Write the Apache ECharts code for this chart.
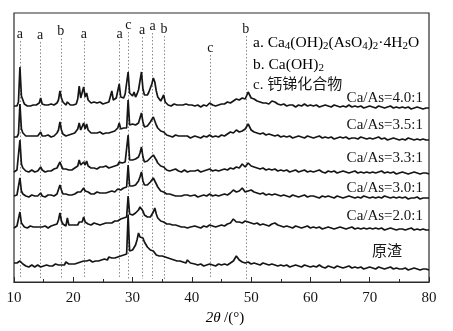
<!DOCTYPE html>
<html>
<head>
<meta charset="utf-8">
<script src="https://cdn.jsdelivr.net/npm/echarts@6/dist/echarts.min.js"></script>
<style>
  html, body { margin: 0; padding: 0; background: #fff; }
  #chart { width: 453px; height: 331px; }
</style>
</head>
<body>
<div id="chart"></div>
<script>
// XRD patterns of the arsenic-fixing products at several Ca/As ratios and the raw slag.
// Sampling: 10–40° every 0.25°, then 40.5–80° every 0.5°.
const angles = [];
for (let a = 10; a <= 40; a += 0.25) angles.push(a);
for (let a = 40.5; a <= 80; a += 0.5) angles.push(a);

const sampleNames = ['Ca/As=4.0:1', 'Ca/As=3.5:1', 'Ca/As=3.3:1', 'Ca/As=3.0:1', 'Ca/As=2.0:1', '原渣'];
// vertical offset of each stacked pattern (intensity units)
const stackOffset = [175, 144, 110, 85, 54, 15];

const ratio40 = [
  1, 2, 1, 5, 40, 11, 7, 3,
  2, 1, 2, 1, 0, 2, 1, 2,
  3, 4, 9, 3, 1, 2, 0, 2,
  1, 3, 2, 2, 3, 4, 7, 16,
  9, 5, 3, 2, 5, 3, 2, 3,
  2, 4, 3, 8, 21, 9, 11, 20,
  10, 14, 7, 5, 4, 3, 5, 3,
  4, 3, 5, 4, 3, 5, 4, 6,
  5, 7, 16, 7, 6, 9, 11, 23,
  10, 12, 9, 13, 11, 35, 14, 12,
  11, 15, 10, 13, 17, 26, 35, 18,
  12, 10, 12, 15, 19, 23, 29, 25,
  16, 10, 8, 6, 8, 12, 5, 3,
  2, 3, 1, 2, 3, 1, 2, 1,
  2, 0, 2, 1, 3, 1, 2, 1,
  2,
  1, 2, 0, 2, 1, 4, 2, 1, 2, 3,
  3, 5, 4, 6, 8, 7, 9, 8, 15, 9,
  8, 6, 5, 4, 4, 3, 6, 5, 3, 2,
  3, 1, 2, 2, 0, 2, 1, 3, 1, 2,
  1, 2, 0, 1, 2, 1, 0, 2, 1, 0,
  1, 0, 2, 0, 1, 0, 1, -1, 0, 1,
  0, -1, 1, 0, -1, 0, 1, -1, 0, -1,
  0, -1, 0, -2, -1, 0, -1, -2, -1, -1
];

const ratio35 = [
  1, 2, 1, 4, 34, 9, 5, 3,
  2, 1, 2, 0, 2, 1, 2, 1,
  2, 3, 6, 2, 1, 2, 1, 3,
  2, 1, 3, 2, 3, 5, 8, 16,
  8, 4, 3, 2, 4, 3, 2, 4,
  3, 5, 4, 9, 15, 8, 10, 15,
  9, 14, 8, 6, 5, 4, 5, 3,
  5, 4, 6, 5, 4, 6, 5, 6,
  5, 7, 6, 8, 7, 9, 10, 15,
  9, 11, 10, 12, 10, 38, 13, 12,
  14, 12, 13, 11, 15, 20, 25, 16,
  11, 10, 12, 14, 16, 18, 21, 19,
  13, 10, 9, 7, 6, 6, 4, 3,
  3, 2, 3, 1, 2, 3, 1, 2,
  1, 2, 0, 2, 1, 2, 1, 0,
  1,
  2, 1, 0, 2, 1, 3, 1, 2, 1, 3,
  2, 4, 6, 5, 8, 6, 7, 9, 14, 8,
  6, 5, 4, 5, 3, 4, 3, 2, 3, 1,
  2, 1, 2, 0, 1, 2, 1, 0, 2, 1,
  0, 1, 2, 0, 1, 0, 1, -1, 0, 1,
  0, 1, -1, 0, 0, -1, 1, 0, -1, 0,
  -1, 0, 1, -1, 0, -2, -1, 0, -1, -2,
  -1, -2, 0, -1, -2, -1, -2, -1, -2, -2
];

const ratio33 = [
  0, 1, 2, 4, 32, 8, 4, 2,
  1, 2, 0, 1, 2, 1, 0, 2,
  1, 2, 5, 2, 1, 0, 2, 1,
  2, 1, 2, 3, 2, 4, 5, 10,
  6, 3, 2, 3, 4, 2, 3, 2,
  3, 4, 3, 6, 12, 7, 8, 10,
  7, 11, 6, 5, 4, 3, 4, 5,
  3, 4, 5, 3, 5, 4, 6, 5,
  4, 6, 5, 7, 6, 8, 7, 10,
  8, 9, 8, 10, 9, 37, 12, 11,
  12, 11, 13, 12, 15, 19, 25, 15,
  10, 9, 11, 12, 14, 15, 17, 16,
  12, 9, 8, 6, 5, 5, 3, 2,
  3, 1, 2, 2, 1, 3, 2, 1,
  2, 0, 1, 2, 1, 0, 2, 1,
  0,
  1, 2, 0, 1, 2, 3, 1, 2, 1, 2,
  3, 2, 4, 3, 5, 4, 8, 5, 9, 6,
  5, 4, 3, 4, 2, 3, 2, 3, 1, 2,
  1, 2, 0, 1, 2, 0, 1, 2, 0, 1,
  0, 1, 2, 0, -1, 1, 0, 1, -1, 0,
  1, 0, -1, 0, 1, -1, 0, -1, 0, -1,
  0, -1, 0, 1, -1, 0, -1, 0, -2, -1,
  0, -1, -2, -1, 0, -1, -2, -1, -1, -2
];

const ratio30 = [
  1, 0, 2, 3, 19, 6, 3, 2,
  1, 2, 0, 1, 2, 0, 1, 2,
  1, 2, 4, 1, 2, 0, 1, 2,
  1, 2, 3, 1, 2, 3, 5, 12,
  7, 3, 2, 3, 5, 2, 3, 2,
  2, 3, 4, 5, 7, 5, 6, 9,
  6, 8, 5, 4, 3, 5, 3, 4,
  5, 3, 4, 6, 4, 5, 4, 6,
  5, 4, 6, 7, 5, 7, 8, 9,
  7, 8, 9, 8, 10, 32, 11, 12,
  11, 13, 12, 14, 16, 20, 25, 16,
  12, 11, 12, 13, 15, 16, 19, 17,
  13, 10, 8, 6, 5, 5, 4, 3,
  2, 3, 1, 2, 3, 1, 2, 1,
  2, 1, 0, 2, 1, 2, 0, 1,
  1,
  2, 0, 1, 2, 1, 3, 1, 2, 1, 2,
  3, 2, 4, 7, 5, 6, 9, 5, 6, 7,
  5, 4, 3, 4, 2, 3, 2, 3, 2, 1,
  2, 1, 0, 2, 1, 0, 1, 2, 0, 1,
  1, 0, -1, 1, 0, 1, 0, -1, 1, 0,
  -1, 0, 1, 0, -1, 0, -1, 1, 0, -1,
  0, -1, 0, -1, 1, 0, -1, 0, -1, 0,
  -1, 0, -2, -1, -1, 0, -2, -1, -1, -1
];

const ratio20 = [
  0, 1, 2, 3, 16, 5, 3, 1,
  2, 0, 1, 2, 0, 1, 2, 1,
  0, 1, 2, 1, 0, 2, 1, 0,
  1, 2, 1, 3, 2, 4, 8, 15,
  7, 4, 3, 2, 10, 3, 2, 3,
  2, 3, 4, 3, 6, 4, 6, 11,
  6, 7, 4, 5, 3, 4, 5, 3,
  4, 5, 3, 5, 4, 6, 5, 4,
  5, 6, 5, 6, 7, 6, 7, 8,
  9, 8, 10, 9, 11, 32, 14, 12,
  13, 14, 15, 16, 18, 21, 23, 17,
  13, 12, 11, 12, 11, 13, 16, 20,
  14, 10, 9, 7, 6, 6, 4, 4,
  3, 4, 2, 3, 2, 3, 1, 2,
  2, 1, 3, 1, 2, 0, 2, 1,
  1,
  2, 1, 0, 2, 1, 3, 2, 1, 2, 3,
  2, 4, 5, 9, 6, 6, 5, 7, 6, 5,
  4, 5, 3, 4, 3, 2, 4, 5, 3, 2,
  1, 2, 1, 0, 2, 1, 0, 1, 2, 0,
  1, 0, 1, -1, 0, 1, 0, -1, 0, 1,
  0, -1, 0, 1, -1, 0, -1, 0, -1, 0,
  -1, 0, -1, 0, -2, -1, 0, -1, -2, -1,
  -1, -2, -1, 0, -2, -1, -2, -1, -2, -2
];

const rawSlag = [
  4, 3, 4, 3, 6, 4, 3, 2,
  1, 2, 0, 1, 2, 1, 0, 1,
  2, 1, 0, 2, 1, 0, 2, 1,
  1, 2, 1, 2, 3, 1, 2, 3,
  2, 3, 2, 5, 7, 3, 4, 3,
  4, 3, 5, 4, 6, 5, 7, 6,
  5, 6, 5, 7, 6, 5, 7, 6,
  7, 6, 8, 7, 6, 8, 9, 7,
  10, 8, 9, 10, 9, 11, 10, 12,
  11, 13, 12, 14, 13, 52, 16, 15,
  17, 19, 22, 27, 34, 30, 32, 29,
  25, 23, 20, 18, 17, 15, 16, 14,
  12, 13, 11, 10, 11, 9, 10, 8,
  9, 7, 8, 6, 7, 5, 6, 5,
  6, 4, 5, 6, 4, 7, 5, 4,
  3,
  3, 2, 3, 1, 2, 3, 2, 1, 3, 2,
  3, 2, 4, 6, 11, 7, 5, 4, 5, 3,
  4, 3, 2, 4, 3, 2, 3, 2, 1, 2,
  1, 2, 0, 1, 2, 1, 0, 2, 1, 0,
  1, 0, 2, 0, -1, 1, 0, -1, 1, 0,
  -1, 0, 1, -1, 0, -1, 0, -2, -1, 0,
  -1, -2, 0, -1, -2, -1, 0, -2, -1, -2,
  -2, -1, -3, -2, -1, -2, -3, -2, -2, -3
];

const patterns = [ratio40, ratio35, ratio33, ratio30, ratio20, rawSlag];

// phase reflections: letter, position (2θ), height of the letter on the intensity scale
const peakLetters = ['a', 'a', 'b', 'a', 'a', 'c', 'a', 'a', 'b', 'c', 'b'];
const peakPos = [11.0, 14.4, 17.9, 21.8, 27.8, 29.3, 31.6, 33.4, 35.3, 43.1, 49.1];
const peakLabelY = [248, 247, 251, 248, 248, 257, 252, 256, 253, 234, 253];

const xTicks = [10, 20, 30, 40, 50, 60, 70, 80];

const SERIF = '"Liberation Serif", "Times New Roman", "Noto Sans CJK SC", serif';
const INK = '#161616';

const chart = echarts.init(document.getElementById('chart'), null, { renderer: 'canvas' });

const series = patterns.map((vals, k) => ({
  name: sampleNames[k],
  type: 'line',
  data: angles.map((a, i) => [a, stackOffset[k] + vals[i]]),
  showSymbol: false,
  symbol: 'none',
  lineStyle: { color: INK, width: 1.7 },
  z: 5,
  silent: true
}));

// dotted reference lines below each phase letter
series.push({
  type: 'line',
  data: [],
  silent: true,
  z: 2,
  markLine: {
    silent: true,
    symbol: ['none', 'none'],
    label: { show: false },
    lineStyle: { color: '#8a8a8a', type: [1.5, 2], width: 1 },
    data: peakPos.map((p, i) => [
      { coord: [p, peakLabelY[i] - 7] },
      { coord: [p, 3] }
    ])
  }
});

// phase letters
series.push({
  type: 'scatter',
  silent: true,
  symbol: 'circle',
  symbolSize: 0.1,
  itemStyle: { color: INK, opacity: 1 },
  z: 6,
  data: peakPos.map((p, i) => ({ value: [p, peakLabelY[i]], name: peakLetters[i] })),
  label: {
    show: true,
    position: 'inside',
    formatter: p => p.name,
    fontFamily: SERIF,
    fontSize: 14,
    color: INK,
    opacity: 1
  }
});

const nameLabelPos = [[423, 98], [423, 125], [423, 158], [423, 188], [423, 216], [387, 252]];

const graphics = sampleNames.map((n, k) => ({
  type: 'text',
  x: nameLabelPos[k][0],
  y: nameLabelPos[k][1],
  style: {
    text: n,
    font: '15px ' + SERIF,
    fill: INK,
    align: k === 5 ? 'center' : 'right',
    verticalAlign: 'middle'
  }
}));

const phaseRich = {
  t: { fontFamily: SERIF, fontSize: 15.5, color: INK, lineHeight: 18 },
  s: { fontFamily: SERIF, fontSize: 11, color: INK, lineHeight: 18, padding: [7, 0, 0, 0] }
};
graphics.push(
  { type: 'text', x: 253, y: 43, style: { text: '{t|a. Ca}{s|4}{t|(OH)}{s|2}{t|(AsO}{s|4}{t|)}{s|2}{t|·4H}{s|2}{t|O}', rich: phaseRich, verticalAlign: 'middle' } },
  { type: 'text', x: 253, y: 65, style: { text: '{t|b. Ca(OH)}{s|2}', rich: phaseRich, verticalAlign: 'middle' } },
  { type: 'text', x: 253, y: 85, style: { text: 'c. 钙锑化合物', font: '15px ' + SERIF, fill: INK, verticalAlign: 'middle' } },
  {
    type: 'text', x: 225, y: 318,
    style: {
      text: '{i|2θ} {n|/(°)}',
      rich: {
        i: { fontFamily: SERIF, fontSize: 15, fontStyle: 'italic', color: INK },
        n: { fontFamily: SERIF, fontSize: 15, color: INK }
      },
      align: 'center', verticalAlign: 'middle'
    }
  }
);

chart.setOption({
  animation: false,
  backgroundColor: '#fff',
  grid: { left: 14, right: 24, top: 13, bottom: 49, show: true, borderColor: '#2a2a2a', borderWidth: 1.2, backgroundColor: 'transparent' },
  xAxis: {
    type: 'value',
    min: xTicks[0],
    max: xTicks[xTicks.length - 1],
    interval: 10,
    axisLine: { show: true, lineStyle: { color: '#2a2a2a', width: 1.2 } },
    axisTick: { show: true, inside: true, length: 5, lineStyle: { color: '#2a2a2a' } },
    minorTick: { show: true, splitNumber: 2, length: 3, lineStyle: { color: '#2a2a2a' } },
    splitLine: { show: false },
    axisLabel: { fontFamily: SERIF, fontSize: 15, color: INK, margin: 9 }
  },
  yAxis: {
    type: 'value',
    min: 0,
    max: 269,
    show: false
  },
  series: series,
  graphic: graphics
});
</script>
</body>
</html>
